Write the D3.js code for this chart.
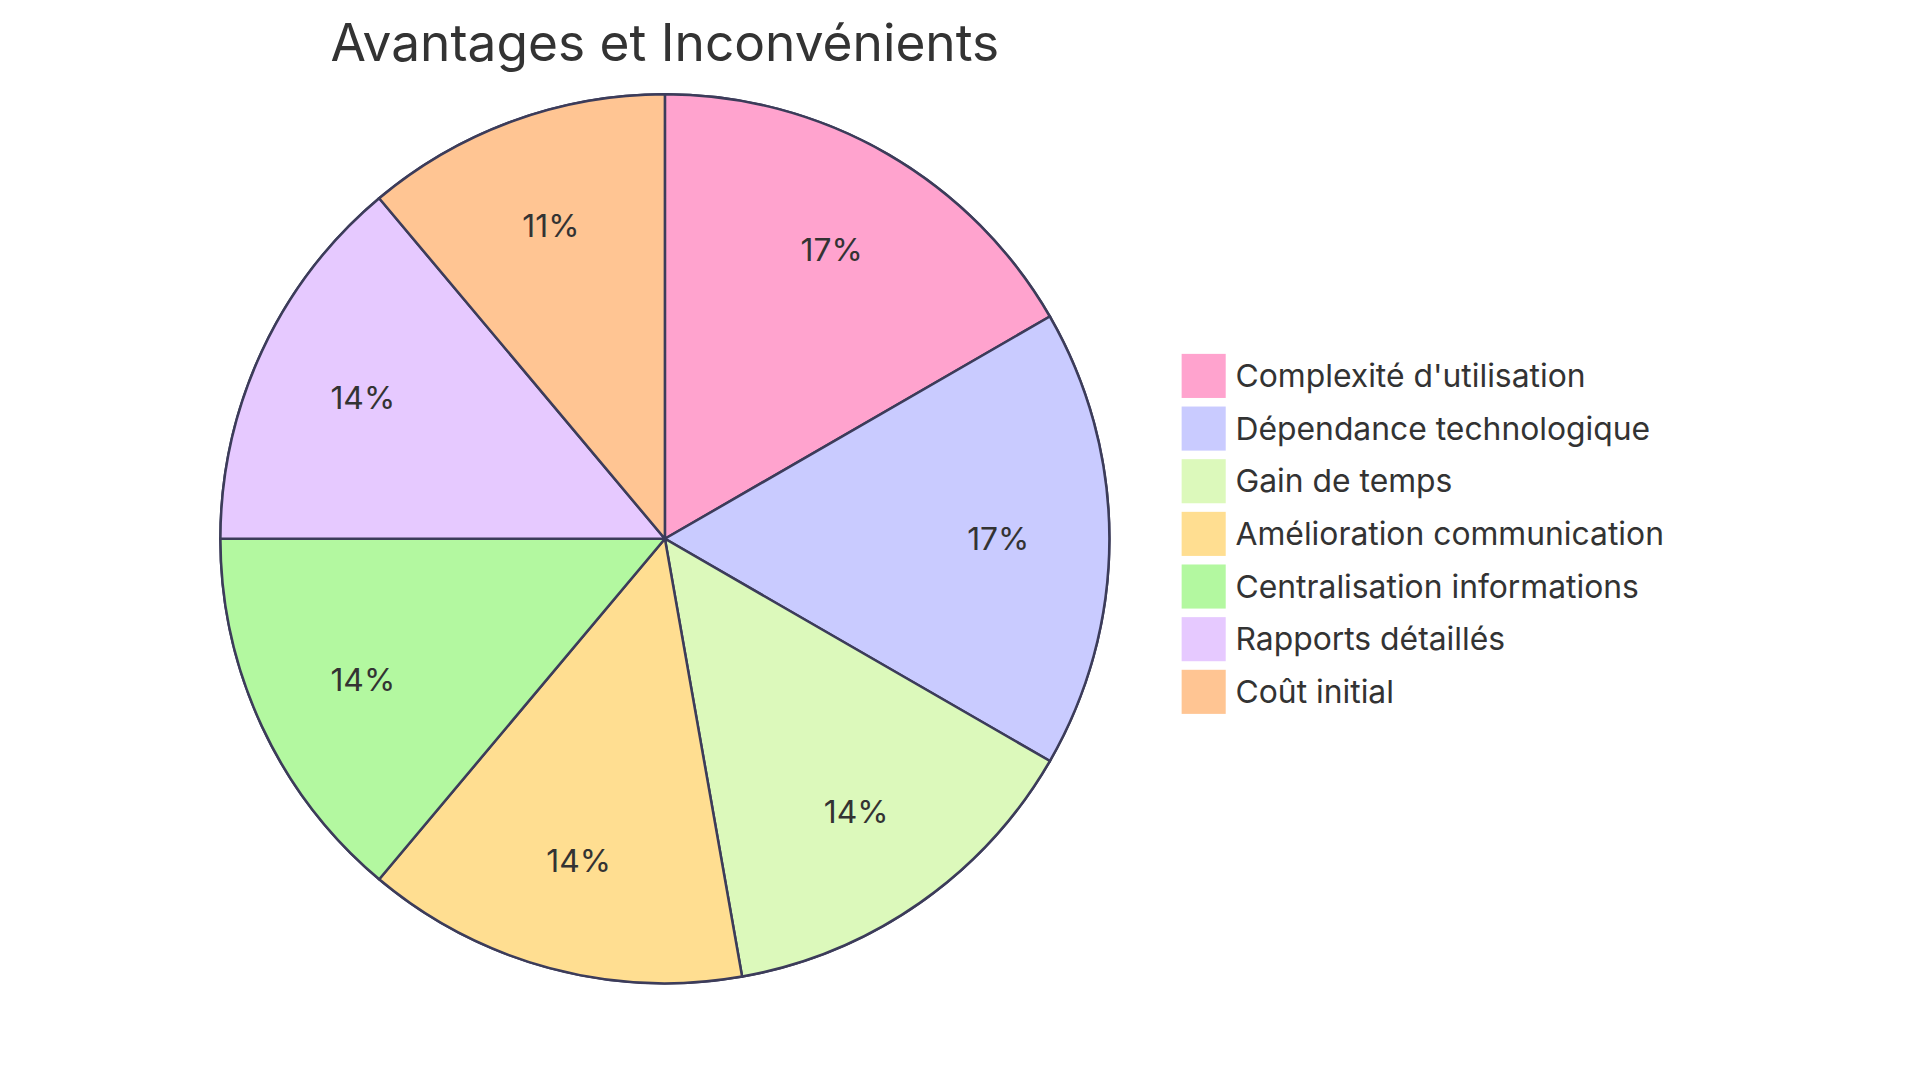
<!DOCTYPE html>
<html><head><meta charset="utf-8">
<script src="https://cdn.jsdelivr.net/npm/d3@7"></script>
<style>body{margin:0;background:#fff}</style></head>
<body><svg id="c" width="1920" height="1083"></svg>
<script>
const categories=["Complexité d'utilisation","Dépendance technologique","Gain de temps","Amélioration communication","Centralisation informations","Rapports détaillés","Coût initial"];
const values=[30,30,25,25,25,25,20];
const colors=["#FFA3CE","#C9CBFF","#DCF9BB","#FFDE91","#B3F8A0","#E6C9FF","#FFC593"];
const svg=d3.select("#c");
const k=1920/1568;
const cx=543*k,cy=440*k,R=363*k;
const font="Inter, 'Open Sans', sans-serif";
svg.append("text").attr("x",cx).attr("y",50*k).attr("text-anchor","middle").attr("font-family",font).attr("font-size",42*k).attr("fill","#333").text("Avantages et Inconvénients");
const pie=d3.pie().sort(null).value(d=>d)(values);
const arc=d3.arc().innerRadius(0).outerRadius(R);
const lab=d3.arc().innerRadius(R*0.75).outerRadius(R*0.75);
const totalV=d3.sum(values);
const g=svg.append("g").attr("transform",`translate(${cx},${cy})`);
g.append("circle").attr("r",R).attr("fill","none").attr("stroke","#3c3c5a").attr("stroke-width",2.5);
g.selectAll("path").data(pie).join("path").attr("d",arc).attr("fill",(d,i)=>colors[i]).attr("stroke","#3c3c5a").attr("stroke-width",2.5);
g.selectAll("text").data(pie).join("text").attr("transform",d=>`translate(${lab.centroid(d)})`).attr("text-anchor","middle").attr("dy","0.35em").attr("font-family",font).attr("font-size",26*k).attr("fill","#333").text(d=>Math.round(d.value/totalV*100)+"%");
const lg=svg.append("g");
categories.forEach((c,i)=>{
  const y=(289+i*43)*k;
  lg.append("rect").attr("x",965*k).attr("y",y).attr("width",36*k).attr("height",36*k).attr("fill",colors[i]);
  lg.append("text").attr("x",1009*k).attr("y",y+18*k).attr("dy","0.35em").attr("font-family",font).attr("font-size",26*k).attr("fill","#333").text(c);
});
</script></body></html>
